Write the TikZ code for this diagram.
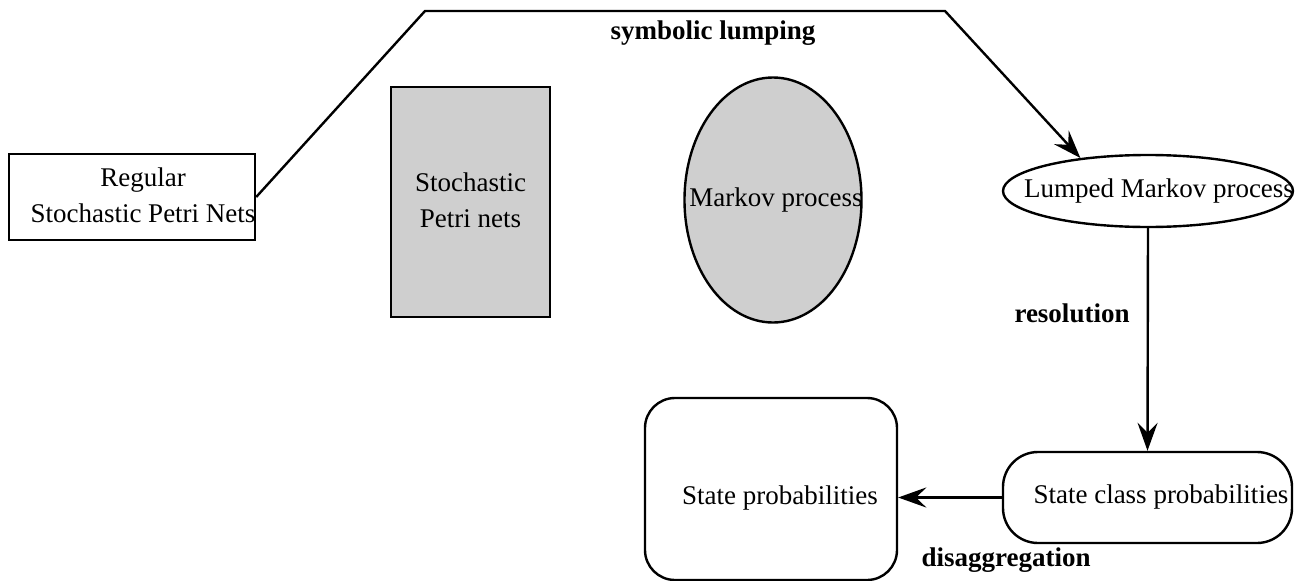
\documentclass[tikz,border=0pt]{standalone}
\usepackage{fontspec}
\setmainfont{Liberation Serif}
\usetikzlibrary{shapes.geometric,arrows.meta,calc}
\begin{document}
\begin{tikzpicture}[x=1pt,y=-1pt,
  every node/.style={font=\fontsize{27}{36}\selectfont},
  base/.style={draw, line width=2.4pt, inner sep=0pt},
  dots/.style={fill=gray!38},
  lbl/.style={font=\fontsize{27}{34}\selectfont\bfseries, inner sep=0pt},
  arr/.style={line width=2.4pt, line join=miter, -{Stealth[length=28pt,width=20pt,inset=10pt]}}
]
\useasboundingbox (0,0) rectangle (1310,581);

\node[base, rectangle, minimum width=246pt, minimum height=86pt] (reg) at (132,197)
  {\makebox[0pt]{\hspace*{22pt}\begin{tabular}{@{}c@{}}Regular\\Stochastic Petri Nets\end{tabular}}};

\node[base, rectangle, dots, minimum width=159pt, minimum height=230pt] (spn) at (470.5,202)
  {\makebox[0pt]{\begin{tabular}{@{}c@{}}Stochastic\\Petri nets\end{tabular}}};

\node[base, ellipse, dots, minimum width=177pt, minimum height=245pt] (mp) at (773,200)
  {\makebox[0pt]{\hspace*{6pt}Markov process}};

\node[base, ellipse, minimum width=290pt, minimum height=72pt] (lmp) at (1148,191)
  {\makebox[0pt]{\hspace*{22pt}Lumped Markov process}};

\node[base, rectangle, rounded corners=35pt, minimum width=289pt, minimum height=91pt] (scp) at (1147.5,497.5)
  {\makebox[0pt]{\hspace*{27pt}State class probabilities}};

\node[base, rectangle, rounded corners=30pt, minimum width=252pt, minimum height=182pt,
      text height=30pt, text depth=0pt] (sp) at (771,489)
  {\makebox[0pt]{\hspace*{18pt}State probabilities}};

\coordinate (c1) at (425,11);
\coordinate (c2) at (945,11);
\draw[arr] (reg.east) -- (c1) -- (c2) -- (lmp.154);
\draw[arr] (lmp.south) -- (scp.north);
\draw[arr] (scp.west) -- (scp.west -| sp.east);

\node[lbl] (l1) at (713,33) {symbolic lumping};
\node[lbl] (l2) at (1072,313) {resolution};
\node[lbl] (l3) at (1006,560) {disaggregation};
\end{tikzpicture}
\end{document}
